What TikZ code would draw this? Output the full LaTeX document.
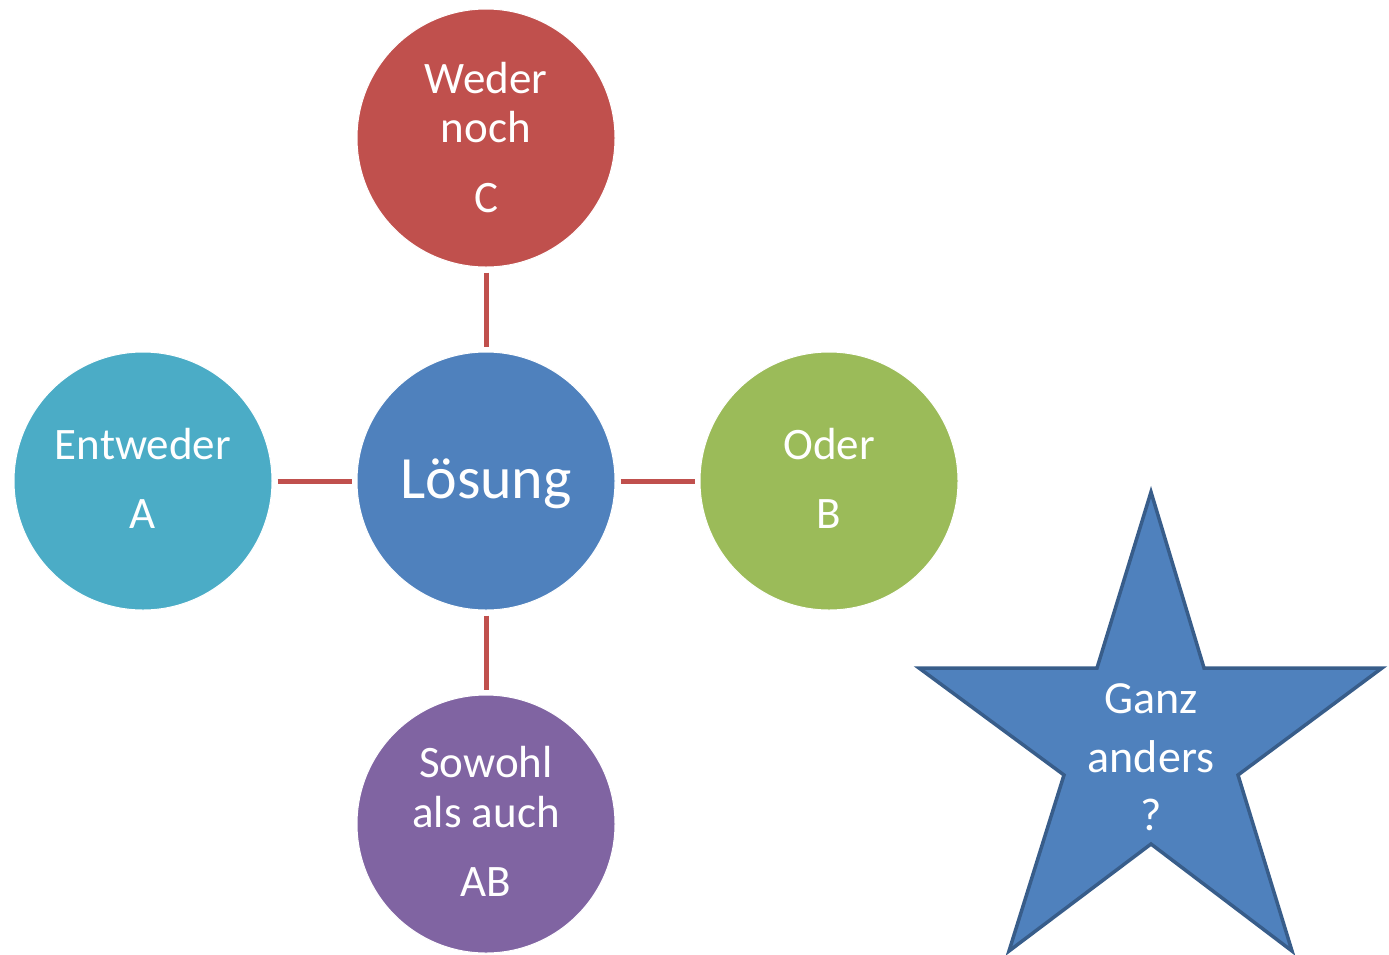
\documentclass[tikz,border=0pt]{standalone}
\usepackage{fontspec}
\setmainfont{Carlito}
\definecolor{cBlue}{HTML}{4F81BD}
\definecolor{cRed}{HTML}{C0504D}
\definecolor{cTeal}{HTML}{4BACC6}
\definecolor{cGreen}{HTML}{9BBB59}
\definecolor{cPurple}{HTML}{8064A2}
\definecolor{cStarLine}{HTML}{385D8A}
\begin{document}
\begin{tikzpicture}[x=1pt,y=-1pt,
  bubble/.style={circle, minimum size=258pt, inner sep=0pt, draw=white, line width=1pt},
  txt/.style={anchor=base, text=white, inner sep=0pt, font=\fontsize{45}{49}\selectfont},
  startxt/.style={anchor=base, text=white, inner sep=0pt, font=\fontsize{46}{58}\selectfont},
  bigtxt/.style={anchor=base, text=white, inner sep=0pt, font=\fontsize{60}{66}\selectfont},
  link/.style={draw=cRed, line width=5pt, shorten <=5pt, shorten >=5pt}]
\useasboundingbox (0,0) rectangle (1389,954);
% circles
\node[bubble, fill=cBlue]   (center) at (486,481) {};
\node[bubble, fill=cRed]    (top)    at (486,138) {};
\node[bubble, fill=cTeal]   (left)   at (143,481) {};
\node[bubble, fill=cGreen]  (right)  at (829,481) {};
\node[bubble, fill=cPurple] (bottom) at (486,824) {};
% connectors
\draw[link] (top) -- (center);
\draw[link] (left) -- (center);
\draw[link] (center) -- (right);
\draw[link] (center) -- (bottom);
% texts
\node[bigtxt] (tcenter) at (486,498) {Lösung};
\node[txt] (ttop1) at (486,93) {Weder};
\node[txt] (ttop2) at (486,142) {noch};
\node[txt] (ttop3) at (486,212) {C};
\node[txt] (tleft1) at (143,459) {Entweder};
\node[txt] (tleft2) at (143,528) {A};
\node[txt] (tright1) at (829,459) {Oder};
\node[txt] (tright2) at (829,528) {B};
\node[txt] (tbot1) at (486,777) {Sowohl};
\node[txt] (tbot2) at (486,827) {als auch};
\node[txt] (tbot3) at (486,896) {AB};
% star
\draw[fill=cBlue, draw=cStarLine, line width=3.5pt, line join=miter]
  (1151,492) -- (1204,668) -- (1382,668) -- (1238,775) -- (1292,951)
  -- (1151,844) -- (1009,951) -- (1064,775) -- (919,668) -- (1097,668) -- cycle;
\node[startxt] (tstar1) at (1151,713) {Ganz};
\node[startxt] (tstar2) at (1151,772) {anders};
\node[startxt] (tstar3) at (1151,830) {?};
\end{tikzpicture}
\end{document}
